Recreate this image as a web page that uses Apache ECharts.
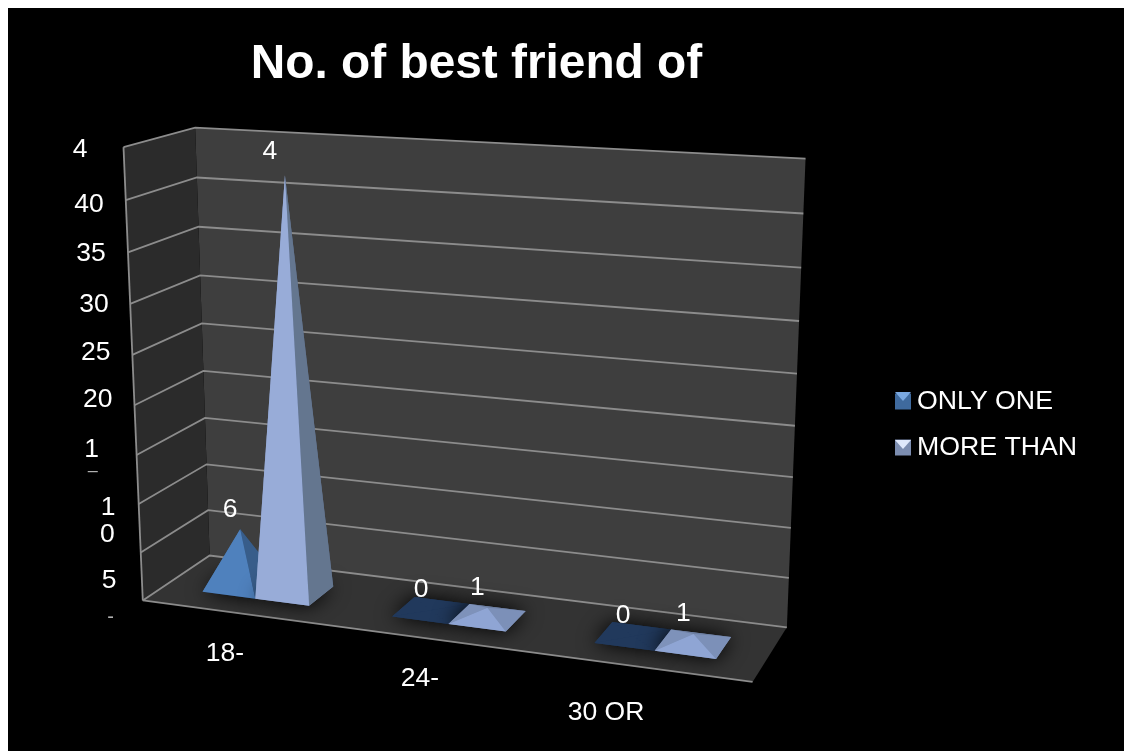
<!DOCTYPE html>
<html>
<head>
<meta charset="utf-8">
<style>
  html, body { margin: 0; padding: 0; background: #fff; overflow: hidden; }
  #chart { width: 1124px; height: 751px; }
</style>
<script src="https://cdn.jsdelivr.net/npm/echarts@6/dist/echarts.min.js"></script>
</head>
<body>
<div id="chart"></div>
<script>
// Chart values
const categories = ['18-', '24-', '30 OR'];
const onlyOne = [6, 0, 0];
const moreThan = [42, 1, 1];
const onlyOneLabels = ['6', '0', '0'];
const moreThanLabels = ['4', '1', '1'];
const tickValues = [0, 5, 10, 15, 20, 25, 30, 35, 40, 45];
const tickTexts = ['-', '5', '1', '0', '1', '\u2013', '20', '25', '30', '35', '40', '4'];

const FONT = '"Liberation Sans", Arial, sans-serif';
const TEXT_SIZE = 26.5;

// Text anchors beside the walls and floor of the box
const tickTextAnchors = [
  [110.7, 615], [109, 579], [108, 506], [107.3, 533], [91.7, 448], [92.7, 469],
  [97.7, 398], [95.7, 351], [94, 303], [91, 252], [89, 203], [80, 148]
];
const categoryAnchors = [[225, 652], [420, 677], [606, 711]];

// Where known points of the unit box (u along categories, w into depth, v up) land on the page
const boxCalibration = [
  [0, 0, 0, 141.7, 600.7], [1, 0, 0, 752.7, 681.7], [0, 1, 0, 210, 555], [1, 1, 0, 787, 627.4],
  [0, 0, 1, 123.3, 147.3], [0, 1, 1, 195, 127.3], [1, 1, 1, 805.5, 158.5],
  [0, 0, 20 / 45, 135.7, 405], [0, 1, 20 / 45, 203.3, 371.7], [1, 1, 20 / 45, 794.7, 426]
];

// Least-squares fit of a perspective camera to the calibration points
function fitCamera(points) {
  const n = 11;
  const A = Array.from({ length: n }, () => new Array(n + 1).fill(0));
  const add = (row, rhs) => {
    for (let i = 0; i < n; i++) {
      for (let j = 0; j < n; j++) A[i][j] += row[i] * row[j];
      A[i][n] += row[i] * rhs;
    }
  };
  points.forEach(([u, w, v, px, py]) => {
    const x = px / 1000, y = py / 1000;
    add([u, w, v, 1, 0, 0, 0, 0, -x * u, -x * w, -x * v], x);
    add([0, 0, 0, 0, u, w, v, 1, -y * u, -y * w, -y * v], y);
  });
  for (let c = 0; c < n; c++) {
    let best = c;
    for (let r = c + 1; r < n; r++) if (Math.abs(A[r][c]) > Math.abs(A[best][c])) best = r;
    [A[c], A[best]] = [A[best], A[c]];
    for (let r = 0; r < n; r++) {
      if (r === c) continue;
      const f = A[r][c] / A[c][c];
      for (let k = c; k <= n; k++) A[r][k] -= f * A[c][k];
    }
  }
  return A.map((row, i) => row[n] / row[i]);
}
const cam = fitCamera(boxCalibration);

function project(u, w, v) {
  const d = cam[8] * u + cam[9] * w + cam[10] * v + 1;
  return [
    1000 * (cam[0] * u + cam[1] * w + cam[2] * v + cam[3]) / d,
    1000 * (cam[4] * u + cam[5] * w + cam[6] * v + cam[7]) / d
  ];
}

// Converts a data position from the hidden cartesian axes into unit-box coordinates
function unitBox(api, params, category, value, bandOffset) {
  const g = params.coordSys;
  const pt = api.coord([category, value]);
  const band = api.size([1, 0])[0];
  return [(pt[0] + bandOffset * band - g.x) / g.width, (g.y + g.height - pt[1]) / g.height];
}

function polygon(points, fill, extra) {
  return { type: 'polygon', shape: { points }, style: Object.assign({ fill }, extra || {}), silent: true };
}
function polyline(points, stroke, lineWidth) {
  return { type: 'polyline', shape: { points }, style: { fill: 'none', stroke, lineWidth }, silent: true };
}
// The font's line box sits a little high, hence the small downward nudge
function label(text, x, y, size, fill) {
  return {
    type: 'text', x, y: y + 2, silent: true,
    style: { text, fill: fill || '#fff', font: size + 'px ' + FONT, textAlign: 'center', textVerticalAlign: 'middle' }
  };
}

const WALL_BACK = '#3e3e3e', WALL_LEFT = '#2b2b2b', FLOOR = '#333333', GRID = '#8c8c8c';
const GRID_WIDTH = 1.8;

function renderFrame(params, api) {
  const children = [
    polygon([project(0, 1, 0), project(1, 1, 0), project(1, 1, 1), project(0, 1, 1)], WALL_BACK),
    polygon([project(0, 0, 0), project(0, 1, 0), project(0, 1, 1), project(0, 0, 1)], WALL_LEFT),
    polygon([project(0, 0, 0), project(1, 0, 0), project(1, 1, 0), project(0, 1, 0)], FLOOR),
    polyline([project(0, 0, 0), project(0, 0, 1)], GRID, GRID_WIDTH),
    polyline([project(0, 0, 0), project(1, 0, 0)], GRID, GRID_WIDTH)
  ];
  tickTexts.forEach((t, i) => {
    const dash = t === '\u2013', hyphen = t === '-';
    const size = dash ? 18 : hyphen ? 20 : TEXT_SIZE;
    children.push(label(t, tickTextAnchors[i][0], tickTextAnchors[i][1], size, dash || hyphen ? '#b0b0b0' : '#fff'));
  });
  categories.forEach((c, i) => children.push(label(c, categoryAnchors[i][0], categoryAnchors[i][1], TEXT_SIZE)));
  return { type: 'group', children };
}

function renderGridLine(params, api) {
  const g = params.coordSys;
  const pt = api.coord([0, api.value(0)]);
  const v = (g.y + g.height - pt[1]) / g.height;
  return polyline([project(0, 0, v), project(0, 1, v), project(1, 1, v)], GRID, GRID_WIDTH);
}

// Pyramid footprint on the floor, in box depth and category-band fractions
const DEPTH_FRONT = 0.295, DEPTH_BACK = 0.70, PYRAMID_WIDTH = 0.285;

const palettes = {
  'ONLY ONE': {
    base: '#21395c', front: '#4f81bd', right: '#385d8a', back: '#2f5079', left: '#4675ac',
    flatFront: '#21395c', flatRight: '#21395c', flatBack: '#21395c', flatLeft: '#21395c'
  },
  'MORE THAN': {
    base: '#7587ab', front: '#98acd8', right: '#64768f', back: '#5c6d8d', left: '#8294bc',
    flatFront: '#8fa5d4', flatRight: '#7c90b8', flatBack: '#6d7fa2', flatLeft: '#7e92ba'
  }
};

function makePyramidRenderer(name, offsetSign, labels) {
  return function (params, api) {
    const cat = api.value(0), val = api.value(1);
    const pal = palettes[name];
    const half = PYRAMID_WIDTH / 2;
    const [uL, v] = unitBox(api, params, cat, val, offsetSign * half - half);
    const [uR] = unitBox(api, params, cat, val, offsetSign * half + half);
    const uMid = (uL + uR) / 2, wMid = (DEPTH_FRONT + DEPTH_BACK) / 2;
    const fl = project(uL, DEPTH_FRONT, 0), fr = project(uR, DEPTH_FRONT, 0);
    const bl = project(uL, DEPTH_BACK, 0), br = project(uR, DEPTH_BACK, 0);
    const apex = project(uMid, wMid, v);
    const flat = val < 3;
    const children = [
      polygon([fl, fr, br, bl], pal.base, { shadowBlur: 20, shadowColor: 'rgba(0,0,0,1)' }),
      polygon([bl, br, apex], flat ? pal.flatBack : pal.back),
      polygon([fl, bl, apex], flat ? pal.flatLeft : pal.left),
      polygon([fr, br, apex], flat ? pal.flatRight : pal.right),
      polygon([fl, fr, apex], flat ? pal.flatFront : pal.front)
    ];
    const big = val > 20;
    children.push(label(labels[params.dataIndex], apex[0] + (big ? -15 : -10), apex[1] + (big ? -25 : -22), TEXT_SIZE));
    return { type: 'group', children };
  };
}

// Bevel highlights on the legend swatches
function swatchBevel(x, y, color) {
  return { type: 'polygon', z: 100, silent: true, shape: { points: [[x, y], [x + 16, y], [x + 8, y + 9]] }, style: { fill: color } };
}

const chart = echarts.init(document.getElementById('chart'));
chart.setOption({
  animation: false,
  backgroundColor: '#fff',
  title: {
    text: 'No. of best friend of',
    left: 471.5, top: 36, textAlign: 'center',
    textStyle: { color: '#fff', fontFamily: FONT, fontWeight: 'bold', fontSize: 47.8 }
  },
  legend: {
    orient: 'vertical', left: 890, top: 383, itemGap: 19, itemWidth: 16, itemHeight: 16,
    icon: 'rect', selectedMode: false,
    textStyle: { color: '#fff', fontFamily: FONT, fontSize: 26.7, padding: [0, 0, 0, 1] },
    data: ['ONLY ONE', 'MORE THAN']
  },
  graphic: [
    { type: 'rect', z: -10, silent: true, shape: { x: 8, y: 8, width: 1116, height: 743 }, style: { fill: '#000' } },
    swatchBevel(895, 392, '#7aa8e0'),
    swatchBevel(895, 440, '#dfe8fb')
  ],
  grid: { left: 100, right: 100, top: 100, bottom: 100, show: false },
  xAxis: { type: 'category', data: categories, show: false },
  yAxis: { type: 'value', min: 0, max: 45, interval: 5, show: false },
  series: [
    { type: 'custom', name: 'frame', z: 1, clip: false, data: [[0, 0]], renderItem: renderFrame, encode: { x: 0, y: 1 }, silent: true },
    { type: 'custom', name: 'grid', z: 2, clip: false, data: tickValues.map(v => [v]), renderItem: renderGridLine, encode: { y: 0 }, silent: true },
    {
      type: 'custom', name: 'ONLY ONE', z: 3, clip: false, silent: true,
      itemStyle: { color: '#3f6a9e' },
      data: onlyOne.map((v, i) => [i, v]), encode: { x: 0, y: 1 },
      renderItem: makePyramidRenderer('ONLY ONE', -1, onlyOneLabels)
    },
    {
      type: 'custom', name: 'MORE THAN', z: 4, clip: false, silent: true,
      itemStyle: { color: '#7c8db0' },
      data: moreThan.map((v, i) => [i, v]), encode: { x: 0, y: 1 },
      renderItem: makePyramidRenderer('MORE THAN', 1, moreThanLabels)
    }
  ]
});
</script>
</body>
</html>
